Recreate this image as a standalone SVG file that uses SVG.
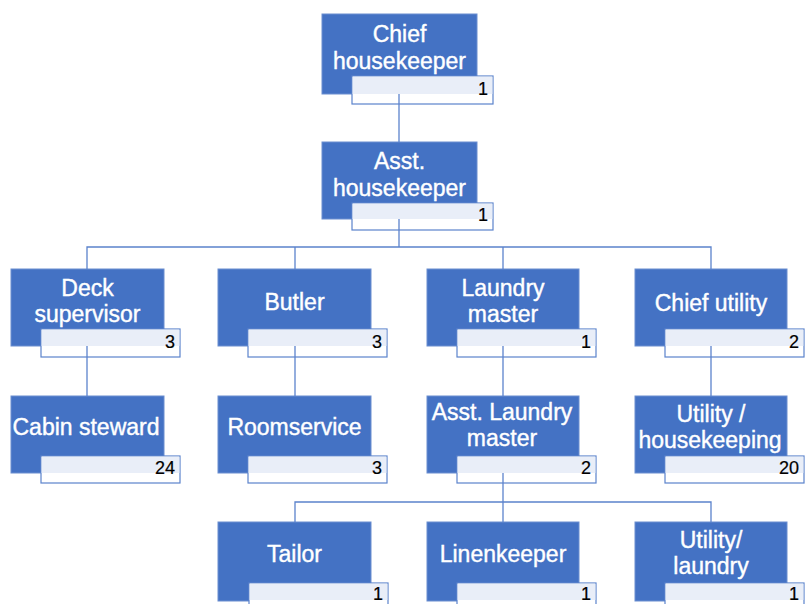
<svg xmlns="http://www.w3.org/2000/svg" width="805" height="604" viewBox="0 0 805 604">
  <style>
    .box { fill: #4472C4; stroke: #6A8ED0; stroke-width: 1; }
    .cnt { fill: #FFFFFF; stroke: #5B83CC; stroke-width: 1.2; }
    .tint { fill: #E9EEF8; }
    .lbl { font-family: "Liberation Sans", Arial, sans-serif; font-size: 23px; fill: #FFFFFF; stroke: #FFFFFF; stroke-width: 0.4; text-anchor: middle; }
    .num { font-family: "Liberation Sans", Arial, sans-serif; font-size: 18px; fill: #000000; stroke: #000000; stroke-width: 0.2; text-anchor: end; }
    .wire { fill: none; stroke: #5B83CC; stroke-width: 1.3; }
  </style>

  <!-- Each node: title box plus a headcount tab overlapping its lower right -->
  <g id="chief-housekeeper">
    <rect class="box" x="322" y="14" width="155" height="80"/>
    <text class="lbl" x="399.5" y="42">Chief</text>
    <text class="lbl" x="399.5" y="69">housekeeper</text>
    <rect class="cnt" x="352" y="76" width="141" height="28"/>
    <rect class="tint" x="352.6" y="76.6" width="139.8" height="17.4"/>
    <text class="num" x="488" y="95">1</text>
  </g>

  <g id="asst-housekeeper">
    <rect class="box" x="322" y="142" width="155" height="77"/>
    <text class="lbl" x="399.5" y="169">Asst.</text>
    <text class="lbl" x="399.5" y="196">housekeeper</text>
    <rect class="cnt" x="352" y="203" width="141" height="27"/>
    <rect class="tint" x="352.6" y="203.6" width="139.8" height="15.4"/>
    <text class="num" x="488" y="221">1</text>
  </g>

  <g id="deck-supervisor">
    <rect class="box" x="11" y="269" width="153" height="77"/>
    <text class="lbl" x="87.5" y="296">Deck</text>
    <text class="lbl" x="87.5" y="322">supervisor</text>
    <rect class="cnt" x="41" y="329" width="139" height="28"/>
    <rect class="tint" x="41.6" y="329.6" width="137.8" height="16.4"/>
    <text class="num" x="175" y="348">3</text>
  </g>

  <g id="butler">
    <rect class="box" x="218" y="269" width="153" height="77"/>
    <text class="lbl" x="294.5" y="310">Butler</text>
    <rect class="cnt" x="248" y="329" width="139" height="28"/>
    <rect class="tint" x="248.6" y="329.6" width="137.8" height="16.4"/>
    <text class="num" x="382" y="348">3</text>
  </g>

  <g id="laundry-master">
    <rect class="box" x="427" y="269" width="152" height="77"/>
    <text class="lbl" x="503" y="296">Laundry</text>
    <text class="lbl" x="503" y="322">master</text>
    <rect class="cnt" x="457" y="329" width="139" height="28"/>
    <rect class="tint" x="457.6" y="329.6" width="137.8" height="16.4"/>
    <text class="num" x="591" y="348">1</text>
  </g>

  <g id="chief-utility">
    <rect class="box" x="635" y="269" width="152" height="77"/>
    <text class="lbl" x="711" y="311">Chief utility</text>
    <rect class="cnt" x="665" y="329" width="139" height="28"/>
    <rect class="tint" x="665.6" y="329.6" width="137.8" height="16.4"/>
    <text class="num" x="799" y="348">2</text>
  </g>

  <g id="cabin-steward">
    <rect class="box" x="11" y="396" width="153" height="77"/>
    <text class="lbl" x="86" y="435">Cabin steward</text>
    <rect class="cnt" x="41" y="456" width="139" height="27"/>
    <rect class="tint" x="41.6" y="456.6" width="137.8" height="16.4"/>
    <text class="num" x="175" y="474">24</text>
  </g>

  <g id="roomservice">
    <rect class="box" x="218" y="396" width="153" height="77"/>
    <text class="lbl" x="294.5" y="435">Roomservice</text>
    <rect class="cnt" x="248" y="456" width="139" height="27"/>
    <rect class="tint" x="248.6" y="456.6" width="137.8" height="16.4"/>
    <text class="num" x="382" y="474">3</text>
  </g>

  <g id="asst-laundry-master">
    <rect class="box" x="427" y="396" width="152" height="77"/>
    <text class="lbl" x="502" y="420">Asst. Laundry</text>
    <text class="lbl" x="502" y="446">master</text>
    <rect class="cnt" x="457" y="456" width="139" height="27"/>
    <rect class="tint" x="457.6" y="456.6" width="137.8" height="16.4"/>
    <text class="num" x="591" y="474">2</text>
  </g>

  <g id="utility-housekeeping">
    <rect class="box" x="635" y="396" width="152" height="77"/>
    <text class="lbl" x="711" y="422">Utility /</text>
    <text class="lbl" x="710" y="448">housekeeping</text>
    <rect class="cnt" x="665" y="456" width="139" height="27"/>
    <rect class="tint" x="665.6" y="456.6" width="137.8" height="16.4"/>
    <text class="num" x="799" y="474">20</text>
  </g>

  <g id="tailor">
    <rect class="box" x="218" y="522" width="153" height="79"/>
    <text class="lbl" x="294.5" y="562">Tailor</text>
    <rect class="cnt" x="249" y="583" width="139" height="28"/>
    <rect class="tint" x="249.6" y="583.6" width="137.8" height="16.4"/>
    <text class="num" x="383" y="600">1</text>
  </g>

  <g id="linenkeeper">
    <rect class="box" x="427" y="522" width="152" height="79"/>
    <text class="lbl" x="503" y="562">Linenkeeper</text>
    <rect class="cnt" x="457" y="583" width="139" height="28"/>
    <rect class="tint" x="457.6" y="583.6" width="137.8" height="16.4"/>
    <text class="num" x="591" y="600">1</text>
  </g>

  <g id="utility-laundry">
    <rect class="box" x="635" y="522" width="152" height="79"/>
    <text class="lbl" x="711" y="548">Utility/</text>
    <text class="lbl" x="711" y="574">laundry</text>
    <rect class="cnt" x="665" y="583" width="139" height="28"/>
    <rect class="tint" x="665.6" y="583.6" width="137.8" height="16.4"/>
    <text class="num" x="799" y="600">1</text>
  </g>

  <!-- Reporting lines -->
  <g id="connectors">
    <path class="wire" d="M399 94 V142"/>
    <path class="wire" d="M399 219 V247" stroke-width="2"/>
    <path class="wire" d="M87 269 V247 H711 V269"/>
    <path class="wire" d="M295 247 V269"/>
    <path class="wire" d="M503 247 V269"/>
    <path class="wire" d="M87 346 V396"/>
    <path class="wire" d="M295 346 V396"/>
    <path class="wire" d="M503 346 V396"/>
    <path class="wire" d="M711 346 V396"/>
    <path class="wire" d="M503 473 V522"/>
    <path class="wire" d="M295 522 V502 H711 V522"/>
  </g>
</svg>
